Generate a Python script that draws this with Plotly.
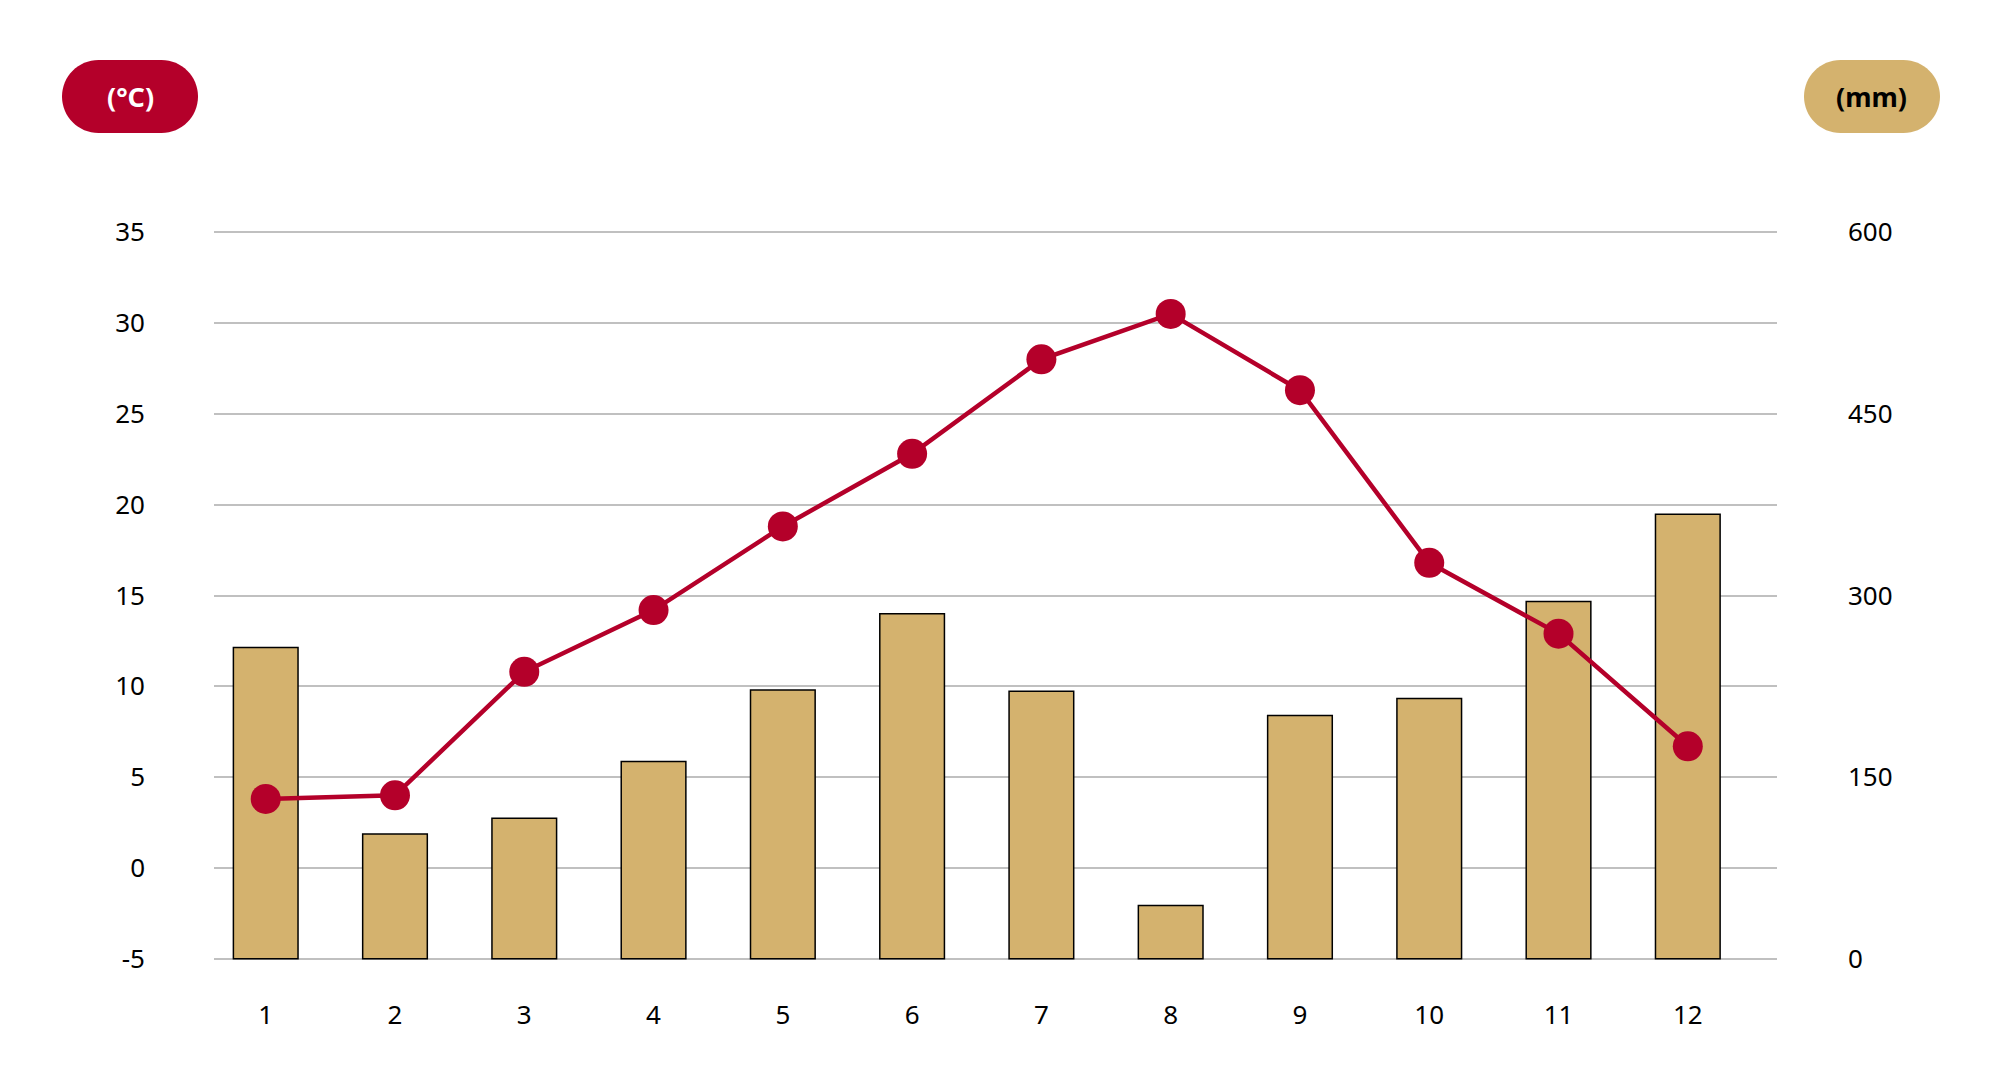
import plotly.graph_objects as go

# monthly climate values
months = [1, 2, 3, 4, 5, 6, 7, 8, 9, 10, 11, 12]
rain_mm = [257, 103, 116, 163, 222, 285, 221, 44, 201, 215, 295, 367]
temp_c = [3.8, 4.0, 10.8, 14.2, 18.8, 22.8, 28.0, 30.5, 26.3, 16.8, 12.9, 6.7]
temp_ticks = [-5, 0, 5, 10, 15, 20, 25, 30, 35]
rain_ticks = [0, 150, 300, 450, 600]

RED = "#b4002a"
GOLD = "#d4b26e"
FONT = "Noto Sans"

# the page body has an 8px margin, so the figure is 8px smaller
W, H = 1992, 1084
L, R, T, B = 206, 223, 222, 131
PAD = 0.12  # degrees of slack so the end gridlines are not clipped


def pill(w, h):
    # stadium shape in pixels around an anchor (bezier arcs, no SVG 'A')
    r = h / 2
    a = w / 2 - r
    k = 0.5523 * r
    return (f"M {-a},{-r} L {a},{-r} "
            f"C {a+k},{-r} {a+r},{-k} {a+r},0 "
            f"C {a+r},{k} {a+k},{r} {a},{r} "
            f"L {-a},{r} "
            f"C {-a-k},{r} {-a-r},{k} {-a-r},0 "
            f"C {-a-r},{-k} {-a-k},{-r} {-a},{-r} Z")


def px_to_paper(x, y):
    return (x - L) / (W - L - R), (H - B - y) / (H - T - B)


fig = go.Figure()

fig.add_trace(go.Bar(
    x=months, y=rain_mm, width=0.5,
    marker=dict(color=GOLD, line=dict(color="black", width=1.5)),
    yaxis="y", showlegend=False,
))
fig.add_trace(go.Scatter(
    x=months, y=temp_c, mode="lines+markers",
    line=dict(color=RED, width=4.5),
    marker=dict(color=RED, size=30),
    yaxis="y2", showlegend=False,
))

shapes = []
annotations = []
for cx, cy, fill, txt, col in [(122, 88.5, RED, "(°C)", "white"),
                               (1864, 88.5, GOLD, "(mm)", "black")]:
    ax, ay = px_to_paper(cx, cy)
    shapes.append(dict(type="path", xref="paper", yref="paper",
                       xsizemode="pixel", ysizemode="pixel",
                       xanchor=ax, yanchor=ay, path=pill(136, 73),
                       fillcolor=fill, line=dict(width=0), layer="above"))
    annotations.append(dict(x=ax, y=ay, xref="paper", yref="paper",
                            xanchor="center", yanchor="middle",
                            text=f"<b>{txt}</b>", showarrow=False,
                            font=dict(family=FONT, size=27, color=col)))

mm_per_deg = 15
fig.update_layout(
    width=W, height=H,
    margin=dict(l=L, r=R, t=T, b=B),
    paper_bgcolor="white", plot_bgcolor="white",
    font=dict(family=FONT, size=26, color="black"),
    bargap=0.5,
    xaxis=dict(range=[0.6, 12.69], tickvals=months, showgrid=False,
               zeroline=False, showline=False, ticks="",
               ticklabelstandoff=36),
    yaxis=dict(side="right",
               range=[-PAD * mm_per_deg, 600 + PAD * mm_per_deg],
               tickvals=rain_ticks,
               showgrid=False, zeroline=False, showline=False, ticks="",
               ticklabelstandoff=70),
    yaxis2=dict(side="left", overlaying="y", range=[-5 - PAD, 35 + PAD],
                tickvals=temp_ticks, ticktext=[str(t) for t in temp_ticks],
                showgrid=True, gridcolor="#c0c0c0", gridwidth=2,
                zeroline=False, showline=False, ticks="",
                ticklabelstandoff=68),
    shapes=shapes,
    annotations=annotations,
)

fig.write_html("out.html")
